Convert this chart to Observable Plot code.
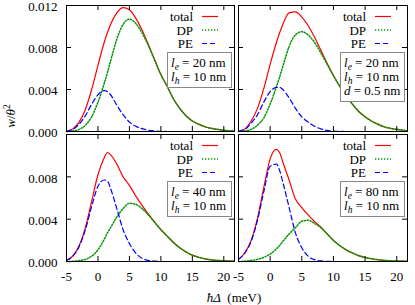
<!DOCTYPE html>
<html><head><meta charset="utf-8">
<script src="https://cdn.jsdelivr.net/npm/d3@7"></script>
<script src="https://cdn.jsdelivr.net/npm/@observablehq/plot@0.6"></script>
<style>
body{margin:0;background:#fff;}
#fig{position:relative;width:415px;height:305px;font-family:'Liberation Serif';}
#fig svg{position:absolute;left:0;top:0;background:none;overflow:visible;}
#fig svg text{font-family:'Liberation Serif' !important;}
</style></head><body><div id="fig"></div>
<script>
// energy grid (meV)
const xs = [-5,-4,-3,-2,-1,0,1,1.5,2,3,4,5,6,7,8,9,10,11,12,13,14,15,16,17,18,19,20,21,21.7];
const xTicks = [-5,0,5,10,15,20];
const yTicks = [0,0.004,0.008,0.012];

// upper-left: le=20 nm, lh=10 nm
const tot_ul = [0.00002,0.00025,0.0009,0.0021,0.004,0.0063,0.0085,0.0094,0.0102,0.0113,0.0118,0.0116,0.0108,0.00967,0.00832,0.00685,0.00542,0.0043,0.0031,0.0022,0.0015,0.001,0.0007,0.00045,0.0003,0.0002,0.00012,0.00007,0.00005];
const dp_ul  = [0,0.00005,0.0002,0.0006,0.0014,0.0028,0.0046,0.0056,0.0067,0.0088,0.0102,0.0107,0.0103,0.0094,0.0082,0.0068,0.0054,0.0043,0.0031,0.0022,0.0015,0.001,0.0007,0.00045,0.0003,0.0002,0.00012,0.00007,0.00005];
const pe_ul  = [0.00002,0.0002,0.0007,0.0015,0.0026,0.0035,0.0039,0.0038,0.0035,0.0025,0.0016,0.0009,0.0005,0.00027,0.00012,0.00005,0.00002,0,0,0,0,0,0,0,0,0,0,0,0];

// upper-right: le=20 nm, lh=10 nm, d=0.5 nm
const tot_ur = [0.00003,0.00025,0.001,0.0022,0.0041,0.0064,0.0085,0.0094,0.0102,0.0113,0.0114,0.0109,0.0101,0.009,0.00775,0.0065,0.00534,0.00431,0.0034,0.0026,0.0019,0.0014,0.001,0.0007,0.00045,0.0003,0.0002,0.00012,0.00009];
const dp_ur  = [0,0.00005,0.0002,0.0006,0.0013,0.0026,0.0043,0.0052,0.0062,0.0081,0.0092,0.0095,0.0092,0.0085,0.0075,0.0064,0.0053,0.0043,0.0034,0.0026,0.0019,0.0014,0.001,0.0007,0.00045,0.0003,0.0002,0.00012,0.00009];
const pe_ur  = [0.00003,0.0002,0.0008,0.0016,0.0028,0.0038,0.0042,0.0042,0.0040,0.0032,0.0022,0.0014,0.0009,0.0005,0.00025,0.0001,0.00004,0.00001,0,0,0,0,0,0,0,0,0,0,0];

// lower-left: le=40 nm, lh=10 nm
const tot_ll = [0.0001,0.00052,0.00148,0.0032,0.0057,0.0082,0.0098,0.0103,0.0101,0.0092,0.008,0.0072,0.0062,0.0053,0.0045,0.00373,0.003,0.0024,0.0018,0.0013,0.0009,0.0006,0.0004,0.00025,0.00015,0.0001,0.00006,0.00004,0.00003];
const dp_ll  = [0,0.00002,0.00008,0.0002,0.0005,0.0011,0.0021,0.0027,0.0032,0.0042,0.005,0.0055,0.0054,0.005,0.0044,0.0037,0.003,0.0024,0.0018,0.0013,0.0009,0.0006,0.0004,0.00025,0.00015,0.0001,0.00006,0.00004,0.00003];
const pe_ll  = [0.0001,0.0005,0.0014,0.003,0.0052,0.0071,0.0077,0.0076,0.0069,0.005,0.003,0.0017,0.0008,0.0003,0.0001,0.00003,0,0,0,0,0,0,0,0,0,0,0,0,0];

// lower-right: le=80 nm, lh=10 nm
const tot_lr = [0.0002,0.00083,0.002,0.0041,0.007,0.0097,0.0106,0.0103,0.0094,0.0077,0.0059,0.0051,0.0044,0.00378,0.00326,0.00262,0.002,0.0015,0.0011,0.0008,0.00055,0.00038,0.00026,0.00017,0.00011,0.00007,0.00004,0.00003,0.00002];
const dp_lr  = [0,0.00003,0.0001,0.0002,0.0004,0.0007,0.0012,0.0015,0.0019,0.0026,0.0032,0.0038,0.0039,0.0036,0.0032,0.0026,0.002,0.0015,0.0011,0.0008,0.00055,0.00038,0.00026,0.00017,0.00011,0.00007,0.00004,0.00003,0.00002];
const pe_lr  = [0.0002,0.0008,0.0019,0.0039,0.0066,0.009,0.0092,0.0086,0.0075,0.0051,0.0027,0.0013,0.0005,0.00018,0.00006,0.00002,0,0,0,0,0,0,0,0,0,0,0,0,0];

const legendLabels = ["total","DP","PE"];
const boxTexts = {
  ul: [["l","e"," = 20 nm"],["l","h"," = 10 nm"]],
  ur: [["l","e"," = 20 nm"],["l","h"," = 10 nm"],["d",""," = 0.5 nm"]],
  ll: [["l","e"," = 40 nm"],["l","h"," = 10 nm"]],
  lr: [["l","e"," = 80 nm"],["l","h"," = 10 nm"]]
};

const RED="#ff0000", GREEN="#009900", BLUE="#0000ff";
const W=415, H=305, FONT="Liberation Serif";

const panels = [
  {key:"ul", left:66, right:234, top:5, bottom:131, tot:tot_ul, dp:dp_ul, pe:pe_ul, yLab:[0,0.004,0.008,0.012], xLab:false},
  {key:"ur", left:238, right:407, top:5, bottom:131, tot:tot_ur, dp:dp_ur, pe:pe_ur, yLab:null, xLab:false},
  {key:"ll", left:66, right:234, top:134, bottom:261, tot:tot_ll, dp:dp_ll, pe:pe_ll, yLab:[0,0.004,0.008], xLab:true},
  {key:"lr", left:238, right:407, top:134, bottom:261, tot:tot_lr, dp:dp_lr, pe:pe_lr, yLab:null, xLab:true}
];

const fig = document.getElementById("fig");
const styles = [
  {stroke:RED, strokeWidth:1.2, dash:null},
  {stroke:GREEN, strokeWidth:1.5, dash:"1.3,1.7"},
  {stroke:BLUE, strokeWidth:1.2, dash:"5,3"}
];

let lastSvg;
for (const p of panels) {
  const rows = xs.map((x,i)=>({x, tot:p.tot[i], dp:p.dp[i], pe:p.pe[i]}));
  const ph = p.bottom - p.top, pw = p.right - p.left, tk = 5;
  const marks = [
    Plot.line(rows,{x:"x",y:"tot",stroke:RED,strokeWidth:1.2,curve:"monotone-x"}),
    Plot.line(rows,{x:"x",y:"dp",stroke:GREEN,strokeWidth:1.5,strokeDasharray:"1.3,1.7",curve:"monotone-x"}),
    Plot.line(rows,{x:"x",y:"pe",stroke:BLUE,strokeWidth:1.2,strokeDasharray:"5,3",curve:"monotone-x"}),
    Plot.tickX(xTicks,{x:d=>d, insetTop:ph-tk, stroke:"#000"}),
    Plot.tickX(xTicks,{x:d=>d, insetBottom:ph-tk, stroke:"#000"}),
    Plot.tickY(yTicks,{y:d=>d, insetRight:pw-tk, stroke:"#000"}),
    Plot.tickY(yTicks,{y:d=>d, insetLeft:pw-tk, stroke:"#000"}),
    Plot.frame({stroke:"#000"})
  ];
  if (p.yLab) marks.push(Plot.axisY({ticks:p.yLab, tickSize:0, tickPadding:9, dy:1.5, tickFormat:d3.format(".3f"), fontSize:13, label:null}));
  if (p.xLab) marks.push(Plot.axisX({ticks:xTicks, tickSize:0, tickPadding:10, tickFormat:d=>String(d), fontSize:13, label:null}));
  const svg = Plot.plot({
    width:W, height:H,
    marginLeft:p.left, marginRight:W-p.right, marginTop:p.top, marginBottom:H-p.bottom,
    x:{domain:[-5,21.7], axis:null},
    y:{domain:[0,0.012], axis:null},
    style:"background:none;overflow:visible;color:#000;font-size:13px;font-family:'Liberation Serif';",
    marks
  });
  svg.setAttribute("font-family", FONT);
  fig.appendChild(svg);
  const g = d3.select(svg).append("g").attr("font-family",FONT).attr("font-size",13).attr("fill","#000").attr("text-anchor","start");
  legendLabels.forEach((lab,i)=>{
    const y = p.top + 11.5 + i*13.5;
    g.append("text").attr("x",p.right-41).attr("y",y).attr("dy","0.35em").attr("text-anchor","end").text(lab);
    const ln = g.append("line").attr("x1",p.right-32).attr("x2",p.right-16).attr("y1",y).attr("y2",y)
      .attr("stroke",styles[i].stroke).attr("stroke-width",styles[i].strokeWidth);
    if (styles[i].dash) ln.attr("stroke-dasharray",styles[i].dash);
  });
  const lines = boxTexts[p.key];
  const bw = 64, bh = 7 + lines.length*14, bx = p.right-3-bw, by = p.top+47;
  g.append("rect").attr("x",bx+0.5).attr("y",by+0.5).attr("width",bw).attr("height",bh)
    .attr("fill","#fff").attr("stroke","#888").attr("stroke-width",1);
  lines.forEach((t,i)=>{
    const tx = g.append("text").attr("x",bx+4).attr("y",by+15+i*14).attr("text-anchor","start");
    tx.append("tspan").attr("font-style","italic").text(t[0]);
    if (t[1]) {
      tx.append("tspan").attr("font-style","italic").attr("font-size",9.5).attr("dy",3).text(t[1]);
      tx.append("tspan").attr("dy",-3).text(t[2]);
    } else {
      tx.append("tspan").text(t[2]);
    }
  });
  lastSvg = svg;
}

// axis titles
const tg = d3.select(lastSvg).append("g").attr("font-family",FONT).attr("font-size",13).attr("fill","#000");
const yl = tg.append("text").attr("transform","translate(15,116) rotate(-90)").attr("text-anchor","middle");
yl.append("tspan").attr("font-style","italic").text("w");
yl.append("tspan").text("/");
yl.append("tspan").attr("font-style","italic").text("θ");
yl.append("tspan").attr("font-size",9.5).attr("dy",-5).text("2");
const xl = tg.append("text").attr("x",234).attr("y",302).attr("text-anchor","middle");
xl.append("tspan").attr("font-style","italic").text("ħΔ");
xl.append("tspan").text("  (meV)");
</script>
</body></html>
